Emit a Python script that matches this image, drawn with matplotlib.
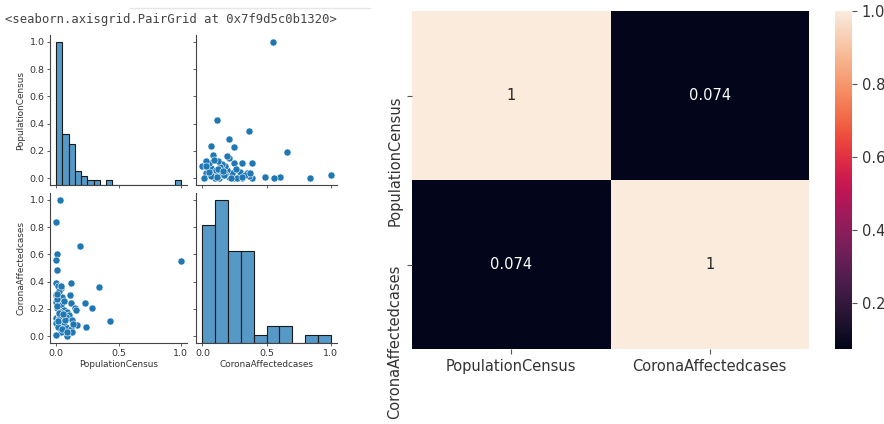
import numpy as np
import pandas as pd
import matplotlib
matplotlib.use('Agg')
import matplotlib.pyplot as plt
import seaborn as sns

# normalised values (one entry per state)
population_census = [
    0.027, 0.0, 0.01, 0.0, 0.01, 0.19, 1.0, 0.0, 0.016, 0.04,
    0.115, 0.343, 0.0, 0.024, 0.048, 0.0, 0.11, 0.23, 0.115, 0.008,
    0.035, 0.148, 0.284, 0.06, 0.088, 0.102, 0.03, 0.0, 0.02, 0.056,
    0.08, 0.129, 0.43, 0.169, 0.236, 0.0, 0.035, 0.075, 0.115, 0.04,
    0.088, 0.0, 0.129, 0.06, 0.016, 0.005, 0.02, 0.03, 0.012, 0.045,
    0.038, 0.005, 0.025, 0.01, 0.07, 0.09, 0.065, 0.055, 0.135, 0.16,
]
corona_cases = [
    1.0, 0.84, 0.605, 0.556, 0.485, 0.66, 0.55, 0.39, 0.365, 0.35,
    0.39, 0.36, 0.305, 0.305, 0.29, 0.25, 0.305, 0.245, 0.245, 0.205,
    0.23, 0.205, 0.205, 0.19, 0.18, 0.155, 0.18, 0.13, 0.13, 0.14,
    0.14, 0.12, 0.11, 0.085, 0.07, 0.095, 0.08, 0.07, 0.055, 0.03,
    0.0, 0.01, 0.03, 0.105, 0.064, 0.27, 0.33, 0.15, 0.11, 0.05,
    0.37, 0.22, 0.17, 0.31, 0.12, 0.03, 0.26, 0.16, 0.09, 0.19,
]

columns = ['PopulationCensus', 'CoronaAffectedcases']
corr_values = [[1.0, 0.074], [0.074, 1.0]]

W, H = 884, 424
fig = plt.figure(figsize=(W / 100, H / 100), dpi=100)


def px_axes(left, top, right, bottom):
    return fig.add_axes([left / W, 1 - bottom / H, (right - left) / W, (bottom - top) / H])


txt = '#333333'
tick_fs = 6.8
lab_fs = 6.4
blue = '#1f77b4'

# ---- pairplot part ----
ax00 = px_axes(50, 35, 187, 185)
ax01 = px_axes(196, 35, 337, 185)
ax10 = px_axes(50, 193, 187, 343)
ax11 = px_axes(196, 193, 337, 343)

lims = (-0.05, 1.05)
for ax in (ax00, ax01, ax10, ax11):
    ax.set_xlim(lims)
    ax.set_ylim(lims)
    ax.spines['top'].set_visible(False)
    ax.spines['right'].set_visible(False)
    for s in ('left', 'bottom'):
        ax.spines[s].set_linewidth(0.8)
        ax.spines[s].set_color('#444444')
    ax.tick_params(labelsize=tick_fs, length=2.5, width=0.6, colors='#444444',
                   labelcolor=txt, pad=1.5)
    ax.set_xticks([0.0, 0.5, 1.0])
    ax.set_yticks([0.0, 0.2, 0.4, 0.6, 0.8, 1.0])

ax00.tick_params(labelbottom=False)
ax01.tick_params(labelbottom=False, labelleft=False)
ax11.tick_params(labelleft=False)

# scatter panels
ax01.scatter(corona_cases, population_census, s=26, color=blue,
             edgecolor='white', linewidth=0.4, zorder=3)
ax10.scatter(population_census, corona_cases, s=26, color=blue,
             edgecolor='white', linewidth=0.4, zorder=3)

# diagonal histograms on their own count scale
for ax, values, nbins in ((ax00, population_census, 20), (ax11, corona_cases, 10)):
    tw = ax.twinx()
    sns.histplot(x=values, bins=nbins, binrange=(0, 1), ax=tw, color=blue,
                 edgecolor='#1a1a1a', linewidth=0.8)
    tw.set_xlim(lims)
    tw.set_ylabel('')
    tw.set_yticks([])
    for s in tw.spines.values():
        s.set_visible(False)

ax00.set_ylabel('PopulationCensus', fontsize=lab_fs, color=txt, labelpad=3)
ax10.set_ylabel('CoronaAffectedcases', fontsize=lab_fs, color=txt, labelpad=3)
ax10.set_xlabel('PopulationCensus', fontsize=lab_fs, color=txt, labelpad=2)
ax11.set_xlabel('CoronaAffectedcases', fontsize=lab_fs, color=txt, labelpad=2)

fig.text(5 / W, 1 - 20 / H, '<seaborn.axisgrid.PairGrid at 0x7f9d5c0b1320>',
         family='DejaVu Sans Mono', fontsize=8.8, color='#444444', va='center')
fig.add_artist(plt.Line2D([130 / W, 370 / W], [1 - 8 / H, 1 - 8 / H],
                          color='#e6e6e6', linewidth=1))

# ---- correlation heatmap ----
ax_hm = px_axes(412, 11, 809, 349)
ax_cb = px_axes(835, 11, 852, 349)
corr = pd.DataFrame(corr_values, index=columns, columns=columns)
sns.heatmap(corr, annot=True, ax=ax_hm, cbar_ax=ax_cb, annot_kws={'fontsize': 10.5})
ax_hm.tick_params(labelsize=10.5, length=3.5, width=0.8, colors='#555555', labelcolor=txt)
ax_hm.set_yticklabels(columns, rotation=90, va='top', fontsize=10.5, color=txt)
ax_cb.tick_params(labelsize=10.5, length=3.5, width=0.8, colors='#555555', labelcolor=txt)
ax_cb.set_yticks([0.2, 0.4, 0.6, 0.8, 1.0])

fig.savefig('out.png', dpi=100)
